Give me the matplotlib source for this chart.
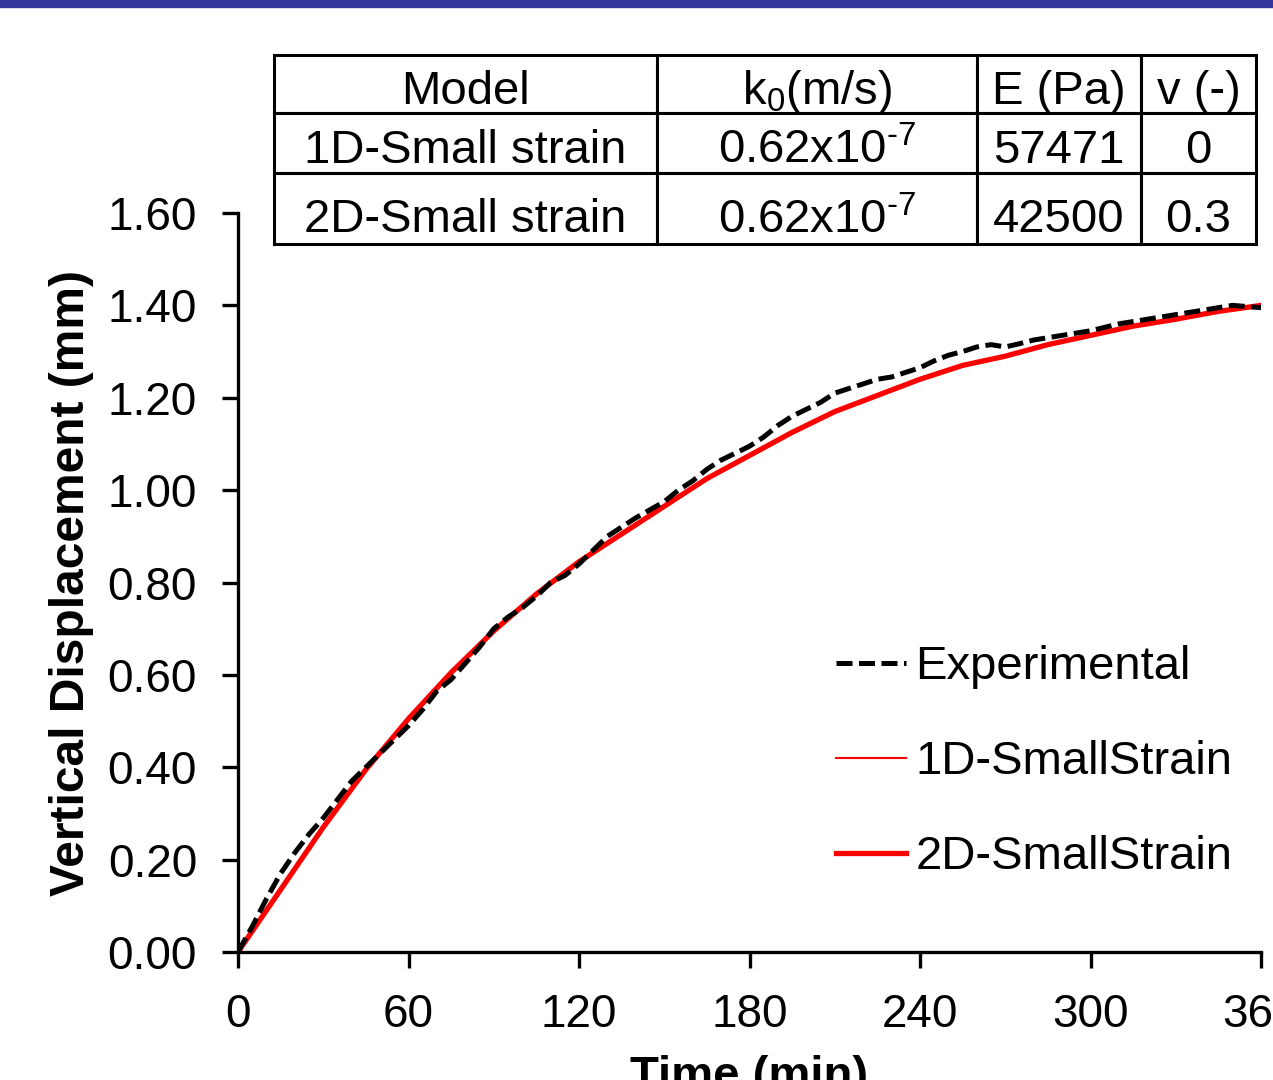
import matplotlib
matplotlib.use('Agg')
import matplotlib.pyplot as plt
from matplotlib.patches import Rectangle
from matplotlib.transforms import Affine2D

plt.rcParams['font.family'] = ['Liberation Sans', 'DejaVu Sans']
plt.rcParams['mathtext.fontset'] = 'custom'
plt.rcParams['mathtext.rm'] = 'Liberation Sans'
plt.rcParams['mathtext.it'] = 'Liberation Sans'

t_exp = [0, 5, 10, 15, 20, 25, 30, 35, 40, 45, 50, 55, 60, 65, 70, 75, 80, 85,
         90, 95, 100, 105, 110, 115, 120, 130, 140, 150, 155, 160, 165, 170,
         175, 180, 185, 190, 195, 200, 205, 210, 215, 220, 225, 230, 235, 240,
         245, 250, 255, 260, 265, 270, 275, 280, 290, 300, 310, 320, 330, 340,
         350, 360]
d_exp = [0.0, 0.055, 0.115, 0.17, 0.215, 0.255, 0.29, 0.33, 0.37, 0.40, 0.43,
         0.46, 0.49, 0.525, 0.565, 0.59, 0.625, 0.66, 0.70, 0.725, 0.745, 0.77,
         0.80, 0.815, 0.84, 0.90, 0.94, 0.975, 1.00, 1.02, 1.045, 1.065, 1.08,
         1.095, 1.115, 1.14, 1.16, 1.175, 1.19, 1.21, 1.22, 1.23, 1.24, 1.245,
         1.255, 1.265, 1.28, 1.292, 1.30, 1.31, 1.315, 1.31, 1.317, 1.325,
         1.335, 1.345, 1.36, 1.37, 1.38, 1.39, 1.40, 1.395]

# modèles
t_mod = [0, 15, 30, 45, 60, 75, 90, 105, 120, 135, 150, 165, 180, 195, 210,
         225, 240, 255, 270, 285, 300, 315, 330, 345, 360]
d_1d = [0.0, 0.135, 0.27, 0.395, 0.505, 0.605, 0.695, 0.775, 0.845, 0.905,
        0.965, 1.025, 1.075, 1.125, 1.17, 1.205, 1.24, 1.27, 1.29, 1.315,
        1.335, 1.355, 1.37, 1.387, 1.40]
d_2d = [0.0, 0.135, 0.27, 0.395, 0.505, 0.605, 0.695, 0.775, 0.845, 0.905,
        0.965, 1.025, 1.075, 1.125, 1.17, 1.205, 1.24, 1.27, 1.29, 1.315,
        1.335, 1.355, 1.37, 1.387, 1.40]

x_ticks = [0, 60, 120, 180, 240, 300, 360]
y_ticks = [0.0, 0.2, 0.4, 0.6, 0.8, 1.0, 1.2, 1.4, 1.6]

col_labels = ['Model', r'k$_0$(m/s)', 'E (Pa)', 'v (-)']
rows = [['1D-Small strain', r'0.62x10$^{\text{-7}}$', '57471', '0'],
        ['2D-Small strain', r'0.62x10$^{\text{-7}}$', '42500', '0.3']]

fig = plt.figure(figsize=(12.73, 10.8), dpi=100)
fig.patches.append(Rectangle((0, 1 - 7 / 1080), 1, 7 / 1080,
                             transform=fig.transFigure, color='#34359a'))

ax = fig.add_axes([238 / 1273, 1 - 952 / 1080, 1023 / 1273, 739 / 1080])
ax.plot(t_exp, d_exp, color='black', lw=3.6, dashes=(3.2, 1.3),
        label='Experimental', zorder=3)
ax.plot(t_mod, d_1d, color='red', lw=1.5, label='1D-SmallStrain', zorder=2)
ax.plot(t_mod, d_2d, color='red', lw=3.8, label='2D-SmallStrain', zorder=2)

ax.set_xlim(0, 360)
ax.set_ylim(0, 1.6)
ax.set_xticks(x_ticks)
ax.set_yticks(y_ticks)
ax.set_yticklabels([f"{v:.2f}" for v in y_ticks])
for s in ['top', 'right']:
    ax.spines[s].set_visible(False)
for s in ['left', 'bottom']:
    ax.spines[s].set_linewidth(2.4)
ax.tick_params(direction='out', length=11.5, width=2.4, pad=18, labelsize=33)
ax.set_ylabel('Vertical Displacement (mm)', fontsize=34.5, fontweight='bold',
              labelpad=10)
ax.set_xlabel('Time (min)', fontsize=34, fontweight='bold', labelpad=13)

ax.legend(loc='upper left', bbox_to_anchor=(0.585, 0.415), frameon=False,
          fontsize=34, handlelength=1.47, handletextpad=0.2, labelspacing=1.08,
          borderpad=0, borderaxespad=0)

# tableau des paramètres
tax = fig.add_axes([274 / 1273, 1 - 244 / 1080, 982 / 1273, 189 / 1080])
tax.axis('off')
tab = tax.table(cellText=rows, colLabels=col_labels, cellLoc='center',
                bbox=[0, 0, 1, 1])
tab.auto_set_font_size(False)
tab.set_fontsize(34)
col_w = [383, 320, 164, 115]
row_h = [58, 60, 71]
shift = [-8, -8, -12]
for (r, c), cell in tab.get_celld().items():
    cell.set_width(col_w[c])
    cell.set_height(row_h[r])
    cell.set_linewidth(2.2)
    cell.get_text().set_transform(Affine2D().translate(0, shift[r]))

fig.savefig('out.png', dpi=100)
